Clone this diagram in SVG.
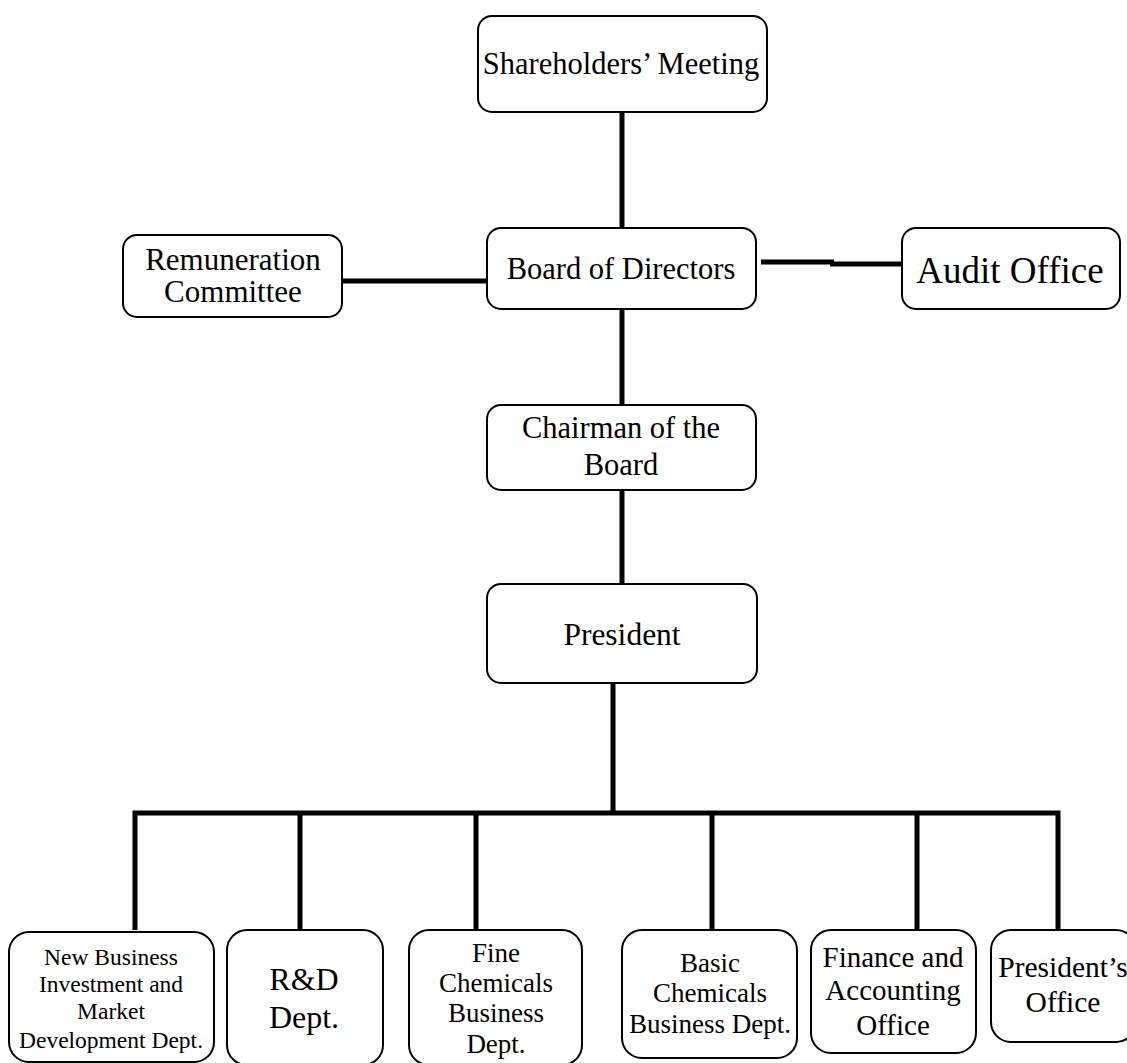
<svg xmlns="http://www.w3.org/2000/svg" width="1127" height="1063" viewBox="0 0 1127 1063">
<style>
.box{fill:#fff;stroke:#000;stroke-width:2}
.t{font-family:'Liberation Serif','DejaVu Serif','Noto Serif',serif;fill:#000;text-anchor:middle}
.c{stroke:#000;stroke-width:5;fill:none}
</style>
<rect width="1127" height="1063" fill="#fff"/>
<g id="connectors">
<line class="c" x1="622" y1="112" x2="622" y2="228"/>
<line class="c" x1="342" y1="281" x2="487" y2="281"/>
<line class="c" x1="761" y1="262" x2="834" y2="262"/>
<line class="c" x1="830" y1="264" x2="903" y2="264"/>
<line class="c" x1="622" y1="309" x2="622" y2="405"/>
<line class="c" x1="622" y1="490" x2="622" y2="584"/>
<line class="c" x1="613" y1="683" x2="613" y2="813"/>
<polyline class="c" points="135,930 135,813 1058,813 1058,930"/>
<line class="c" x1="300" y1="813" x2="300" y2="930"/>
<line class="c" x1="476" y1="813" x2="476" y2="930"/>
<line class="c" x1="712" y1="813" x2="712" y2="930"/>
<line class="c" x1="917" y1="813" x2="917" y2="930"/>
</g>
<g id="shareholders">
<rect class="box" x="478" y="16" width="289" height="96" rx="14"/>
<text class="t" x="621" y="74" font-size="30.5">Shareholders’ Meeting</text>
</g>
<g id="board">
<rect class="box" x="487" y="228" width="269" height="81" rx="14"/>
<text class="t" x="621" y="279" font-size="30.5">Board of Directors</text>
</g>
<g id="remuneration">
<rect class="box" x="123" y="235" width="219" height="82" rx="14"/>
<text class="t" x="233" y="270" font-size="31">Remuneration</text>
<text class="t" x="233" y="302" font-size="31">Committee</text>
</g>
<g id="audit">
<rect class="box" x="902" y="228" width="218" height="81" rx="14"/>
<text class="t" x="1010" y="283" font-size="37">Audit Office</text>
</g>
<g id="chairman">
<rect class="box" x="487" y="405" width="269" height="85" rx="14"/>
<text class="t" x="621" y="438" font-size="30.5">Chairman of the</text>
<text class="t" x="621" y="475" font-size="30.5">Board</text>
</g>
<g id="president">
<rect class="box" x="487" y="584" width="270" height="99" rx="14"/>
<text class="t" x="622" y="645" font-size="31.5">President</text>
</g>
<g id="newbusiness">
<rect class="box" x="9" y="932" width="205" height="130" rx="20"/>
<text class="t" x="111" y="965" font-size="23.5">New Business</text>
<text class="t" x="111" y="992" font-size="23.5">Investment and</text>
<text class="t" x="111" y="1019" font-size="23.5">Market</text>
<text class="t" x="111" y="1048" font-size="23.5">Development Dept.</text>
</g>
<g id="rd">
<rect class="box" x="227" y="930" width="156" height="135" rx="20"/>
<text class="t" x="304" y="990" font-size="32">R&amp;D</text>
<text class="t" x="304" y="1028" font-size="32">Dept.</text>
</g>
<g id="fine">
<rect class="box" x="409" y="930" width="173" height="135" rx="20"/>
<text class="t" x="496" y="962" font-size="27">Fine</text>
<text class="t" x="496" y="992" font-size="27">Chemicals</text>
<text class="t" x="496" y="1022" font-size="27">Business</text>
<text class="t" x="496" y="1053" font-size="27">Dept.</text>
</g>
<g id="basic">
<rect class="box" x="622" y="930" width="175" height="128" rx="20"/>
<text class="t" x="710" y="972" font-size="27">Basic</text>
<text class="t" x="710" y="1002" font-size="27">Chemicals</text>
<text class="t" x="710" y="1033" font-size="27">Business Dept.</text>
</g>
<g id="finance">
<rect class="box" x="811" y="930" width="165" height="123" rx="20"/>
<text class="t" x="893" y="967" font-size="29">Finance and</text>
<text class="t" x="893" y="1000" font-size="29">Accounting</text>
<text class="t" x="893" y="1035" font-size="29">Office</text>
</g>
<g id="presidentsoffice">
<rect class="box" x="991" y="930" width="145" height="112" rx="20"/>
<text class="t" x="1063" y="977" font-size="29.5">President’s</text>
<text class="t" x="1063" y="1012" font-size="29.5">Office</text>
</g>
</svg>
